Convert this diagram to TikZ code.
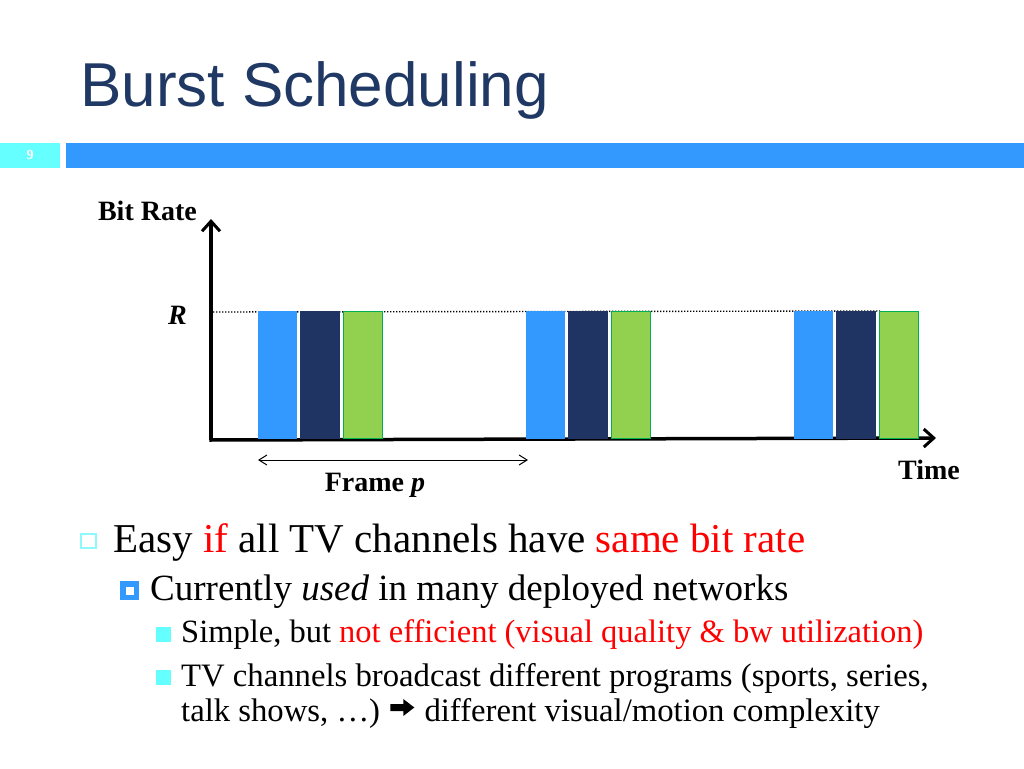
\documentclass[tikz,border=0pt]{standalone}
\usepackage{fontspec}
\setmainfont{Liberation Serif}
\newfontfamily\titlefont{Liberation Sans}
\usetikzlibrary{arrows.meta}
\definecolor{titleblue}{RGB}{31,56,100}
\definecolor{barblue}{RGB}{51,153,255}
\definecolor{barnavy}{RGB}{31,52,98}
\definecolor{bargreen}{RGB}{146,208,80}
\definecolor{greenedge}{RGB}{0,176,80}
\definecolor{cyanbox}{RGB}{102,255,255}
\definecolor{lightcyan}{RGB}{140,250,250}
\definecolor{redtext}{RGB}{255,0,0}
\tikzset{
  bluebar/.style={fill=barblue},
  navybar/.style={fill=barnavy},
  greenbar/.style={fill=bargreen,draw=greenedge,line width=1pt},
  axis/.style={line width=3.5pt,-{Straight Barb[length=10pt,width=18pt,line width=3pt]}},
  lbl/.style={inner sep=0pt,font=\fontsize{28}{32}\selectfont\bfseries},
  txt/.style={inner sep=0pt,anchor=base west},
  bodyc/.style={txt,font=\fontsize{32.7}{36}\selectfont},
}
\begin{document}
\begin{tikzpicture}[x=1pt,y=-1pt]
\useasboundingbox (0,0) rectangle (1024,768);
\fill[white] (0,0) rectangle (1024,768);
% title
\node[txt,text=titleblue,font=\titlefont\fontsize{62}{70}\selectfont] (title) at (80,106) {Burst Scheduling};
% header bars
\fill[cyanbox] (0,143) rectangle (60,168);
\fill[barblue] (66,143) rectangle (1024,168);
\node[text=white,font=\fontsize{14}{16}\selectfont\bfseries,inner sep=0pt] (num) at (30,155) {9};
% axes
\coordinate (O) at (211,440);
\coordinate (ytop) at (211,219);
\coordinate (xend) at (936,438);
\draw[axis] (O) -- (ytop);
\draw[axis] ([xshift=-1.7pt]O) -- (xend);
% R level
\coordinate (r0) at (213,312);
\coordinate (r1) at (880,311);
\draw[line width=1.4pt,dash pattern=on 1.4pt off 1.6pt] (r0) -- (r1);
% bars
\foreach \x in {258,526,794}{
  \fill[bluebar] (\x,311) rectangle ++(39,128);
  \fill[navybar] (\x+42,311) rectangle ++(40,128);
  \filldraw[greenbar] (\x+85.5,311.5) rectangle ++(38.5,127);
}
% labels
\node[lbl,anchor=base east] (br) at (197,220) {Bit Rate};
\node[lbl,anchor=base east] (R) at (187,324) {\itshape R};
\node[lbl,anchor=base west] (time) at (898,479) {Time};
% frame arrow
\coordinate (f0) at (258,460);
\coordinate (f1) at (528,460);
\draw[line width=1pt,{Straight Barb[length=8pt,width=10pt]}-{Straight Barb[length=8pt,width=10pt]}] (f0) -- (f1);
\node[lbl,anchor=base] (frame) at (375,491) {Frame \textit{p}};
% bullets
\draw[lightcyan,line width=1.5pt] (81,534) rectangle (96,548);
\node[txt,font=\fontsize{41}{46}\selectfont] (b1) at (113,552) {Easy \textcolor{redtext}{if} all TV channels have \textcolor{redtext}{same bit rate}};
\fill[barblue] (120,581) rectangle (139,600);
\fill[white] (126,587) rectangle (133.5,594.5);
\node[txt,font=\fontsize{37}{42}\selectfont] (b2) at (150,600) {Currently \textit{used} in many deployed networks};
\fill[cyanbox] (156,627) rectangle (171,642);
\node[txt,font=\fontsize{32.5}{36}\selectfont] (b3) at (181,642) {Simple, but \textcolor{redtext}{not efficient (visual quality \& bw utilization)}};
\fill[cyanbox] (156,670) rectangle (171,685);
\node[bodyc] (b4) at (181,686) {TV channels broadcast different programs (sports, series,};
\node[bodyc] (b5) at (181,721) {talk shows, \dots)};
\coordinate (a0) at ([xshift=10pt]b5.base east);
\fill[black] ([yshift=17pt]a0) -- ++(13,0) -- ++(0,-5) -- ++(11,8.5) -- ++(-11,8.5) -- ++(0,-5) -- ++(-13,0) -- cycle;
\node[bodyc] (b6) at ([xshift=34pt]a0) {different visual/motion complexity};
\end{tikzpicture}
\end{document}
